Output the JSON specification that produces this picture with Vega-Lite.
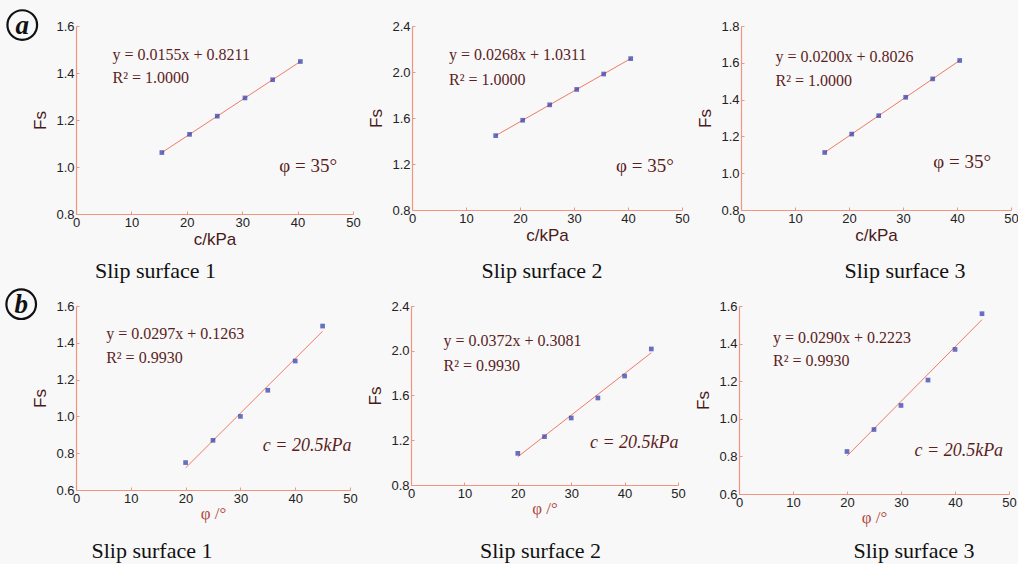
{
  "$schema": "https://vega.github.io/schema/vega-lite/v6.json",
  "background": "#f8f8f8",
  "padding": {"left": 1, "top": 5, "right": 2, "bottom": 2},
  "spacing": 2,
  "datasets": {
    "pts": [
      {"panel": "a1", "x": 15.5, "y": 1.0614}, {"panel": "a1", "x": 20.5, "y": 1.1389}, {"panel": "a1", "x": 25.5, "y": 1.2164},
      {"panel": "a1", "x": 30.5, "y": 1.2939}, {"panel": "a1", "x": 35.5, "y": 1.3714}, {"panel": "a1", "x": 40.5, "y": 1.4489},
      {"panel": "a2", "x": 15.5, "y": 1.4465}, {"panel": "a2", "x": 20.5, "y": 1.5805}, {"panel": "a2", "x": 25.5, "y": 1.7145},
      {"panel": "a2", "x": 30.5, "y": 1.8485}, {"panel": "a2", "x": 35.5, "y": 1.9825}, {"panel": "a2", "x": 40.5, "y": 2.1165},
      {"panel": "a3", "x": 15.5, "y": 1.1126}, {"panel": "a3", "x": 20.5, "y": 1.2126}, {"panel": "a3", "x": 25.5, "y": 1.3126},
      {"panel": "a3", "x": 30.5, "y": 1.4126}, {"panel": "a3", "x": 35.5, "y": 1.5126}, {"panel": "a3", "x": 40.5, "y": 1.6126},
      {"panel": "b1", "x": 20, "y": 0.749}, {"panel": "b1", "x": 25, "y": 0.87}, {"panel": "b1", "x": 30, "y": 1.0},
      {"panel": "b1", "x": 35, "y": 1.142}, {"panel": "b1", "x": 40, "y": 1.301}, {"panel": "b1", "x": 45, "y": 1.491},
      {"panel": "b2", "x": 20, "y": 1.083}, {"panel": "b2", "x": 25, "y": 1.232}, {"panel": "b2", "x": 30, "y": 1.399},
      {"panel": "b2", "x": 35, "y": 1.578}, {"panel": "b2", "x": 40, "y": 1.774}, {"panel": "b2", "x": 45, "y": 2.016},
      {"panel": "b3", "x": 20, "y": 0.826}, {"panel": "b3", "x": 25, "y": 0.943}, {"panel": "b3", "x": 30, "y": 1.071},
      {"panel": "b3", "x": 35, "y": 1.206}, {"panel": "b3", "x": 40, "y": 1.369}, {"panel": "b3", "x": 45, "y": 1.559}
    ],
    "fit": [
      {"panel": "a1", "x": 15.5, "y": 1.0614}, {"panel": "a1", "x": 40.5, "y": 1.4489},
      {"panel": "a2", "x": 15.5, "y": 1.4465}, {"panel": "a2", "x": 40.5, "y": 2.1165},
      {"panel": "a3", "x": 15.5, "y": 1.1126}, {"panel": "a3", "x": 40.5, "y": 1.6126},
      {"panel": "b1", "x": 20, "y": 0.7203}, {"panel": "b1", "x": 45, "y": 1.4628},
      {"panel": "b2", "x": 20, "y": 1.0521}, {"panel": "b2", "x": 45, "y": 1.9821},
      {"panel": "b3", "x": 20, "y": 0.8023}, {"panel": "b3", "x": 45, "y": 1.5273}
    ],
    "eq": [
      {"panel": "a1", "label": "y = 0.0155x + 0.8211", "x": 6.6, "y": 1.477},
      {"panel": "a1", "label": "R² = 1.0000", "x": 6.6, "y": 1.379},
      {"panel": "a2", "label": "y = 0.0268x + 1.0311", "x": 6.85, "y": 2.148},
      {"panel": "a2", "label": "R² = 1.0000", "x": 6.85, "y": 1.93},
      {"panel": "a3", "label": "y = 0.0200x + 0.8026", "x": 6.4, "y": 1.632},
      {"panel": "a3", "label": "R² = 1.0000", "x": 6.4, "y": 1.501},
      {"panel": "b1", "label": "y = 0.0297x + 0.1263", "x": 5.5, "y": 1.448},
      {"panel": "b1", "label": "R² = 0.9930", "x": 5.5, "y": 1.317},
      {"panel": "b2", "label": "y = 0.0372x + 0.3081", "x": 6.1, "y": 2.087},
      {"panel": "b2", "label": "R² = 0.9930", "x": 6.1, "y": 1.864},
      {"panel": "b3", "label": "y = 0.0290x + 0.2223", "x": 6.3, "y": 1.43},
      {"panel": "b3", "label": "R² = 0.9930", "x": 6.3, "y": 1.307}
    ],
    "cond": [
      {"panel": "a1", "label": "φ = 35°", "x": 36.7, "y": 1.004},
      {"panel": "a2", "label": "φ = 35°", "x": 37.8, "y": 1.183},
      {"panel": "a3", "label": "φ = 35°", "x": 35.6, "y": 1.061},
      {"panel": "b1", "label": "c = 20.5kPa", "x": 34.1, "y": 0.839},
      {"panel": "b2", "label": "c = 20.5kPa", "x": 33.5, "y": 1.177},
      {"panel": "b3", "label": "c = 20.5kPa", "x": 32.5, "y": 0.829}
    ],
    "tag": [
      {"panel": "a1", "letter": "a", "x": -9.7, "y": 1.604},
      {"panel": "b1", "letter": "b", "x": -10.0, "y": 1.61}
    ]
  },
  "vconcat": [
    {
      "spacing": 6,
      "hconcat": [
        {
          "width": 277, "height": 188,
          "title": {"text": "Slip surface 1", "dx": -59},
          "encoding": {
            "x": {"field": "x", "type": "quantitative", "scale": {"domain": [0, 50]}, "axis": {"title": "c/kPa", "values": [0, 10, 20, 30, 40, 50]}},
            "y": {"field": "y", "type": "quantitative", "scale": {"domain": [0.8, 1.6]}, "axis": {"title": "Fs", "values": [0.8, 1.0, 1.2, 1.4, 1.6], "format": ".1f"}}
          },
          "layer": [
            {"data": {"name": "fit"}, "transform": [{"filter": "datum.panel == 'a1'"}], "mark": {"type": "line", "color": "#f07a66", "strokeWidth": 1}},
            {"data": {"name": "pts"}, "transform": [{"filter": "datum.panel == 'a1'"}], "mark": {"type": "point", "shape": "square", "filled": true, "size": 22, "color": "#2a35a8"}},
            {"data": {"name": "eq"}, "transform": [{"filter": "datum.panel == 'a1'"}], "mark": {"type": "text", "align": "left", "baseline": "middle", "font": "Liberation Serif", "fontSize": 16, "color": "#5c1e1e"}, "encoding": {"text": {"field": "label"}}},
            {"data": {"name": "cond"}, "transform": [{"filter": "datum.panel == 'a1'"}], "mark": {"type": "text", "align": "left", "baseline": "middle", "font": "Liberation Serif", "fontSize": 19, "color": "#5c1e1e"}, "encoding": {"text": {"field": "label"}}},
            {"data": {"name": "tag"}, "transform": [{"filter": "datum.panel == 'a1'"}], "mark": {"type": "point", "shape": "circle", "filled": false, "size": 880, "stroke": "#111111", "strokeWidth": 2.2, "opacity": 1}},
            {"data": {"name": "tag"}, "transform": [{"filter": "datum.panel == 'a1'"}], "mark": {"type": "text", "align": "center", "baseline": "middle", "font": "Liberation Serif", "fontSize": 27, "fontWeight": "bold", "fontStyle": "italic", "color": "#111111", "dy": 1}, "encoding": {"text": {"field": "letter"}}}
          ]
        },
        {
          "width": 270, "height": 184,
          "title": {"text": "Slip surface 2", "dx": -5, "dy": 4},
          "encoding": {
            "x": {"field": "x", "type": "quantitative", "scale": {"domain": [0, 50]}, "axis": {"title": "c/kPa", "values": [0, 10, 20, 30, 40, 50]}},
            "y": {"field": "y", "type": "quantitative", "scale": {"domain": [0.8, 2.4]}, "axis": {"title": "Fs", "values": [0.8, 1.2, 1.6, 2.0, 2.4], "format": ".1f"}}
          },
          "layer": [
            {"data": {"name": "fit"}, "transform": [{"filter": "datum.panel == 'a2'"}], "mark": {"type": "line", "color": "#f07a66", "strokeWidth": 1}},
            {"data": {"name": "pts"}, "transform": [{"filter": "datum.panel == 'a2'"}], "mark": {"type": "point", "shape": "square", "filled": true, "size": 22, "color": "#2a35a8"}},
            {"data": {"name": "eq"}, "transform": [{"filter": "datum.panel == 'a2'"}], "mark": {"type": "text", "align": "left", "baseline": "middle", "font": "Liberation Serif", "fontSize": 16, "color": "#5c1e1e"}, "encoding": {"text": {"field": "label"}}},
            {"data": {"name": "cond"}, "transform": [{"filter": "datum.panel == 'a2'"}], "mark": {"type": "text", "align": "left", "baseline": "middle", "font": "Liberation Serif", "fontSize": 19, "color": "#5c1e1e"}, "encoding": {"text": {"field": "label"}}}
          ]
        },
        {
          "width": 270, "height": 184,
          "title": {"text": "Slip surface 3", "dx": 29, "dy": 4},
          "encoding": {
            "x": {"field": "x", "type": "quantitative", "scale": {"domain": [0, 50]}, "axis": {"title": "c/kPa", "values": [0, 10, 20, 30, 40, 50]}},
            "y": {"field": "y", "type": "quantitative", "scale": {"domain": [0.8, 1.8]}, "axis": {"title": "Fs", "values": [0.8, 1.0, 1.2, 1.4, 1.6, 1.8], "format": ".1f"}}
          },
          "layer": [
            {"data": {"name": "fit"}, "transform": [{"filter": "datum.panel == 'a3'"}], "mark": {"type": "line", "color": "#f07a66", "strokeWidth": 1}},
            {"data": {"name": "pts"}, "transform": [{"filter": "datum.panel == 'a3'"}], "mark": {"type": "point", "shape": "square", "filled": true, "size": 22, "color": "#2a35a8"}},
            {"data": {"name": "eq"}, "transform": [{"filter": "datum.panel == 'a3'"}], "mark": {"type": "text", "align": "left", "baseline": "middle", "font": "Liberation Serif", "fontSize": 16, "color": "#5c1e1e"}, "encoding": {"text": {"field": "label"}}},
            {"data": {"name": "cond"}, "transform": [{"filter": "datum.panel == 'a3'"}], "mark": {"type": "text", "align": "left", "baseline": "middle", "font": "Liberation Serif", "fontSize": 19, "color": "#5c1e1e"}, "encoding": {"text": {"field": "label"}}}
          ]
        }
      ]
    },
    {
      "spacing": 8,
      "hconcat": [
        {
          "width": 274, "height": 184,
          "title": {"text": "Slip surface 1", "dx": -61, "dy": 6},
          "encoding": {
            "x": {"field": "x", "type": "quantitative", "scale": {"domain": [0, 50]}, "axis": {"title": "φ /°", "values": [0, 10, 20, 30, 40, 50], "titleFont": "Liberation Serif", "titleFontSize": 17, "titleColor": "#b0483e", "titlePadding": 0}},
            "y": {"field": "y", "type": "quantitative", "scale": {"domain": [0.6, 1.6]}, "axis": {"title": "Fs", "values": [0.6, 0.8, 1.0, 1.2, 1.4, 1.6], "format": ".1f"}}
          },
          "layer": [
            {"data": {"name": "fit"}, "transform": [{"filter": "datum.panel == 'b1'"}], "mark": {"type": "line", "color": "#f07a66", "strokeWidth": 1}},
            {"data": {"name": "pts"}, "transform": [{"filter": "datum.panel == 'b1'"}], "mark": {"type": "point", "shape": "square", "filled": true, "size": 22, "color": "#2a35a8"}},
            {"data": {"name": "eq"}, "transform": [{"filter": "datum.panel == 'b1'"}], "mark": {"type": "text", "align": "left", "baseline": "middle", "font": "Liberation Serif", "fontSize": 16, "color": "#5c1e1e"}, "encoding": {"text": {"field": "label"}}},
            {"data": {"name": "cond"}, "transform": [{"filter": "datum.panel == 'b1'"}], "mark": {"type": "text", "align": "left", "baseline": "middle", "font": "Liberation Serif", "fontSize": 18, "fontStyle": "italic", "color": "#5c1e1e"}, "encoding": {"text": {"field": "label"}}},
            {"data": {"name": "tag"}, "transform": [{"filter": "datum.panel == 'b1'"}], "mark": {"type": "point", "shape": "circle", "filled": false, "size": 880, "stroke": "#111111", "strokeWidth": 2.2, "opacity": 1}},
            {"data": {"name": "tag"}, "transform": [{"filter": "datum.panel == 'b1'"}], "mark": {"type": "text", "align": "center", "baseline": "middle", "font": "Liberation Serif", "fontSize": 27, "fontWeight": "bold", "fontStyle": "italic", "color": "#111111", "dy": 1}, "encoding": {"text": {"field": "letter"}}}
          ]
        },
        {
          "width": 267, "height": 179,
          "title": {"text": "Slip surface 2", "dx": -4, "dy": 11},
          "encoding": {
            "x": {"field": "x", "type": "quantitative", "scale": {"domain": [0, 50]}, "axis": {"title": "φ /°", "values": [0, 10, 20, 30, 40, 50], "titleFont": "Liberation Serif", "titleFontSize": 17, "titleColor": "#b0483e", "titlePadding": 0}},
            "y": {"field": "y", "type": "quantitative", "scale": {"domain": [0.8, 2.4]}, "axis": {"title": "Fs", "values": [0.8, 1.2, 1.6, 2.0, 2.4], "format": ".1f"}}
          },
          "layer": [
            {"data": {"name": "fit"}, "transform": [{"filter": "datum.panel == 'b2'"}], "mark": {"type": "line", "color": "#f07a66", "strokeWidth": 1}},
            {"data": {"name": "pts"}, "transform": [{"filter": "datum.panel == 'b2'"}], "mark": {"type": "point", "shape": "square", "filled": true, "size": 22, "color": "#2a35a8"}},
            {"data": {"name": "eq"}, "transform": [{"filter": "datum.panel == 'b2'"}], "mark": {"type": "text", "align": "left", "baseline": "middle", "font": "Liberation Serif", "fontSize": 16, "color": "#5c1e1e"}, "encoding": {"text": {"field": "label"}}},
            {"data": {"name": "cond"}, "transform": [{"filter": "datum.panel == 'b2'"}], "mark": {"type": "text", "align": "left", "baseline": "middle", "font": "Liberation Serif", "fontSize": 18, "fontStyle": "italic", "color": "#5c1e1e"}, "encoding": {"text": {"field": "label"}}}
          ]
        },
        {
          "width": 270, "height": 188,
          "title": {"text": "Slip surface 3", "dx": 40, "dy": 2},
          "encoding": {
            "x": {"field": "x", "type": "quantitative", "scale": {"domain": [0, 50]}, "axis": {"title": "φ /°", "values": [0, 10, 20, 30, 40, 50], "titleFont": "Liberation Serif", "titleFontSize": 17, "titleColor": "#b0483e", "titlePadding": 0}},
            "y": {"field": "y", "type": "quantitative", "scale": {"domain": [0.6, 1.6]}, "axis": {"title": "Fs", "values": [0.6, 0.8, 1.0, 1.2, 1.4, 1.6], "format": ".1f"}}
          },
          "layer": [
            {"data": {"name": "fit"}, "transform": [{"filter": "datum.panel == 'b3'"}], "mark": {"type": "line", "color": "#f07a66", "strokeWidth": 1}},
            {"data": {"name": "pts"}, "transform": [{"filter": "datum.panel == 'b3'"}], "mark": {"type": "point", "shape": "square", "filled": true, "size": 22, "color": "#2a35a8"}},
            {"data": {"name": "eq"}, "transform": [{"filter": "datum.panel == 'b3'"}], "mark": {"type": "text", "align": "left", "baseline": "middle", "font": "Liberation Serif", "fontSize": 16, "color": "#5c1e1e"}, "encoding": {"text": {"field": "label"}}},
            {"data": {"name": "cond"}, "transform": [{"filter": "datum.panel == 'b3'"}], "mark": {"type": "text", "align": "left", "baseline": "middle", "font": "Liberation Serif", "fontSize": 18, "fontStyle": "italic", "color": "#5c1e1e"}, "encoding": {"text": {"field": "label"}}}
          ]
        }
      ]
    }
  ],
  "config": {
    "view": {"stroke": null},
    "axis": {
      "grid": false,
      "domainColor": "#f29580",
      "domainWidth": 1.2,
      "tickColor": "#f29580",
      "tickSize": -3,
      "labelFont": "Liberation Sans",
      "labelFontSize": 13,
      "labelColor": "#222222",
      "labelPadding": 5,
      "titleFont": "Liberation Sans",
      "titleFontSize": 17,
      "titleFontWeight": "normal",
      "titleColor": "#4a1a1a"
    },
    "axisX": {"titlePadding": 2, "labelFlush": false},
    "axisY": {"titlePadding": 6, "labelFlush": false},
    "title": {"orient": "bottom", "anchor": "middle", "font": "Liberation Serif", "fontSize": 22, "fontWeight": "normal", "color": "#111111", "offset": 14}
  }
}
